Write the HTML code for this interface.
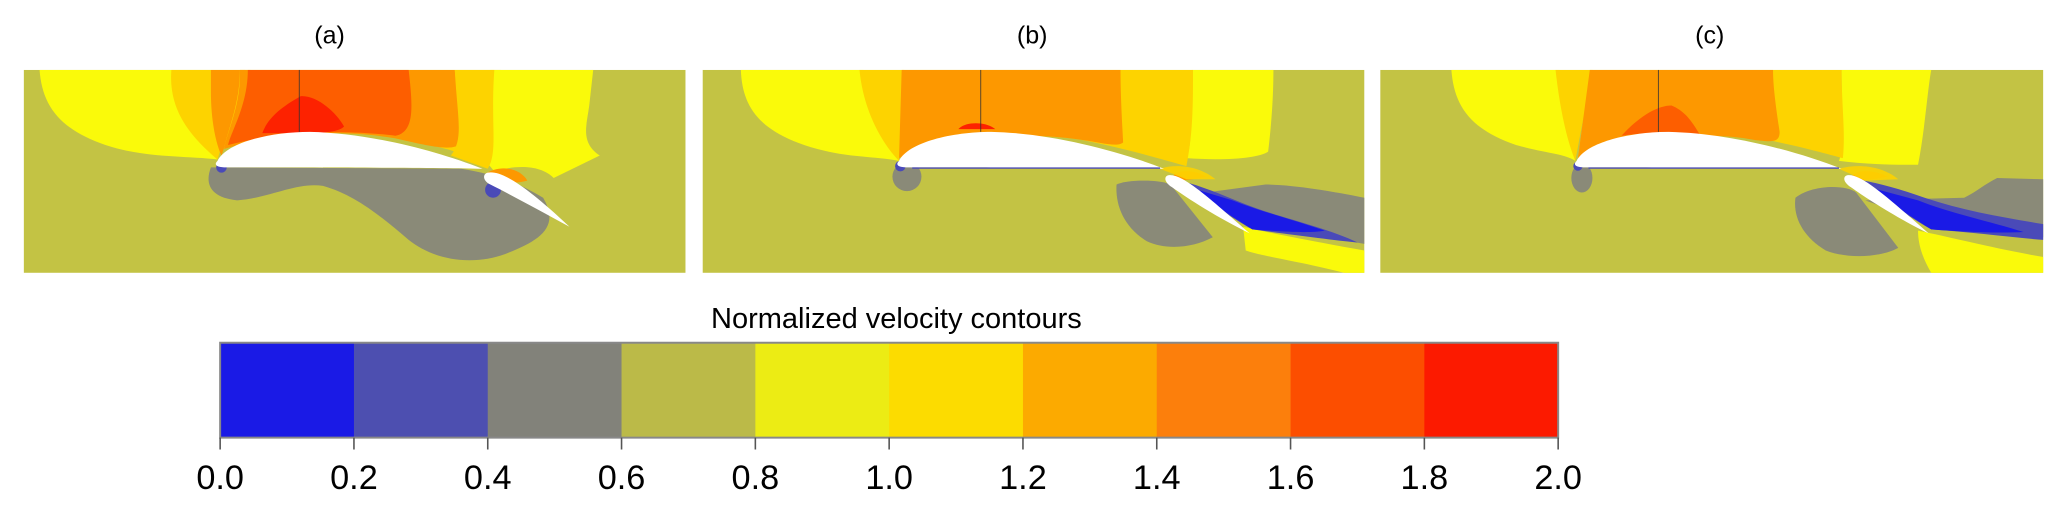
<!DOCTYPE html>
<html><head><meta charset="utf-8"><style>
html,body{margin:0;padding:0;background:#fff;}
svg{display:block;font-family:"Liberation Sans",Arial,sans-serif;}
</style></head><body>
<svg id="fig" width="2067" height="517" viewBox="0 0 1568 392.2" preserveAspectRatio="none" xmlns="http://www.w3.org/2000/svg">
<defs>
<clipPath id="ca"><rect x="18" y="53" width="502" height="154"/></clipPath>
<clipPath id="cb"><rect x="533" y="53" width="502" height="154"/></clipPath>
<clipPath id="cc"><rect x="1047" y="53" width="503" height="154"/></clipPath>
<g id="airfoil">
<path d="M165,122 C172,108 205,100 235,100 C280,101 330,114 366,128 C330,127 200,127 172,127 C164,127 162,125 165,122 Z" fill="#fff"/>
</g>
</defs>

<text x="250" y="33" font-size="19" text-anchor="middle">(a)</text>
<text x="783" y="33" font-size="19" text-anchor="middle">(b)</text>
<text x="1297" y="33" font-size="19" text-anchor="middle">(c)</text>

<g clip-path="url(#ca)">
<rect x="18" y="53" width="502" height="154" fill="#c3c344"/>
<path d="M30,53 C32,80 45,98 80,110 C110,120 140,118 165,121 L160,53 Z" fill="#fafa0a"/>
<path d="M130,53 C128,80 140,100 165,121 L186,53 Z" fill="#fdd300"/>
<path d="M160,53 L160,70 C160,95 165,112 168,118 L190,53 Z" fill="#fd9800"/>
<path d="M182,53 C182,80 172,100 170,113 C200,102 240,98 280,102 C330,108 355,118 365,122 L380,53 Z" fill="#fdd300"/>
<path d="M182,53 C183,80 172,100 170,113 C210,100 260,98 300,105 C330,112 345,115 350,108 L345,53 Z" fill="#fd9800"/>
<path d="M188,53 C188,80 175,100 173,110 C220,98 270,99 300,103 C315,100 313,80 310,53 Z" fill="#fd5e00"/>
<path d="M199,101 C203,90 212,82 228,73 C240,72 255,85 261,96 C255,102 235,101 199,101 Z" fill="#fd2200"/>
<path d="M372,53 C372,80 375,100 365,118 L375,130 C392,125 410,125 420,135 L455,118 C440,108 445,95 447,80 L450,53 Z" fill="#fafa0a"/>
<path d="M345,53 C347,90 352,105 342,118 L370,128 C378,115 372,95 375,53 Z" fill="#fdd300"/>
<path d="M368,132 C380,124 395,128 400,137 C390,140 378,138 368,132 Z" fill="#fd9800"/>
<path d="M160,127 C155,140 160,150 180,152 C205,150 225,138 245,141 C270,148 290,165 310,182 C330,198 360,202 385,192 C410,182 425,172 412,150 C395,140 380,133 350,128 Z" fill="#8a8a78"/>
<circle cx="168" cy="127" r="4" fill="#4a4ab8"/>
<circle cx="374" cy="144" r="6" fill="#4a4ab8"/>
<use href="#airfoil"/>
<path d="M370,131 C380,129 398,140 432,172 C410,160 388,148 372,140 C366,137 366,132 370,131 Z" fill="#fff"/>
<line x1="227" y1="53" x2="227" y2="100" stroke="#333" stroke-width="0.6"/>
</g>

<g clip-path="url(#cb)">
<rect x="533" y="53" width="502" height="154" fill="#c3c344"/>
<path d="M562,53 C563,80 575,98 610,110 C640,120 660,118 682,122 L655,53 Z" fill="#fafa0a"/>
<path d="M652,53 C655,85 670,110 682,122 L686,53 Z" fill="#fdd300"/>
<path d="M904,53 C903,80 905,110 900,120 C930,122 955,120 962,115 C965,90 966,70 966,53 Z" fill="#fafa0a"/>
<path d="M684,53 L682,120 C720,102 780,100 820,106 C860,114 885,122 900,126 C905,100 905,80 905,53 Z" fill="#fdd300"/>
<path d="M684,53 L682,120 C720,102 780,100 820,106 C835,108 848,112 852,108 C851,90 850,70 850,53 Z" fill="#fd9800"/>
<path d="M727,98 C732,92 748,92 755,98 Z" fill="#fd2200"/>
<circle cx="688" cy="134" r="11" fill="#8a8a78"/>
<circle cx="683" cy="126" r="4" fill="#4a4ab8"/>
<path d="M847,140 C855,136 880,136 888,140 L920,180 C905,188 885,190 870,183 C852,172 846,155 847,140 Z" fill="#8a8a78"/>
<path d="M900,148 L960,140 C980,140 1010,145 1035,150 L1035,185 L960,172 Z" fill="#8a8a78"/>
<path d="M943,172 C960,176 990,182 1035,190 L1035,207 L1020,207 C985,198 960,195 945,190 Z" fill="#fafa0a"/>
<path d="M885,135 C900,140 925,160 950,174 C980,178 1010,182 1030,184 C1005,172 970,165 945,155 C925,147 905,138 885,135 Z" fill="#4a4ab8"/>
<path d="M895,140 C915,150 935,165 950,174 C975,176 995,177 1005,175 C985,168 955,160 935,152 Z" fill="#1a1ae6"/>
<path d="M888,137 C890,128 905,128 915,134 C908,136 898,137 888,137 Z" fill="#fd9800"/>
<path d="M880,128 C892,124 910,126 922,136 L900,136 Z" fill="#fdd300" opacity="0.9"/>
<g transform="translate(517,0)"><use href="#airfoil"/></g>
<line x1="692" y1="127.5" x2="880" y2="127.5" stroke="#4a4ab8" stroke-width="1"/>
<path d="M886,133 C896,131 915,148 948,177 C925,166 900,150 889,142 C883,138 883,134 886,133 Z" fill="#fff"/>
<line x1="744" y1="53" x2="744" y2="100" stroke="#333" stroke-width="0.6"/>
</g>

<g clip-path="url(#cc)">
<rect x="1047" y="53" width="503" height="154" fill="#c3c344"/>
<path d="M1101,53 C1103,80 1115,98 1150,110 C1175,117 1185,116 1195,122 L1183,53 Z" fill="#fafa0a"/>
<path d="M1180,53 C1183,80 1188,105 1195,122 L1208,53 Z" fill="#fdd300"/>
<path d="M1397,53 C1397,90 1400,110 1395,122 C1420,125 1440,125 1455,125 C1460,100 1462,70 1465,53 Z" fill="#fafa0a"/>
<path d="M1206,53 L1197,120 C1240,102 1300,100 1340,106 C1370,112 1390,118 1398,120 C1400,100 1397,80 1397,53 Z" fill="#fdd300"/>
<path d="M1206,53 L1197,120 C1240,102 1300,100 1330,106 C1345,108 1350,108 1350,100 C1347,80 1345,65 1345,53 Z" fill="#fd9800"/>
<path d="M1230,103 C1240,92 1255,80 1268,80 C1280,85 1285,95 1290,103 C1270,100 1250,100 1230,103 Z" fill="#fd5e00"/>
<ellipse cx="1200" cy="135" rx="8" ry="11" fill="#8a8a78"/>
<circle cx="1197" cy="126" r="3.5" fill="#4a4ab8"/>
<path d="M1362,150 C1375,140 1400,140 1408,146 L1440,188 C1425,196 1400,196 1385,190 C1368,180 1360,165 1362,150 Z" fill="#8a8a78"/>
<path d="M1415,152 L1490,150 C1500,145 1505,140 1515,135 L1550,136 L1550,180 L1470,172 Z" fill="#8a8a78"/>
<path d="M1455,175 C1480,180 1510,188 1550,195 L1550,207 L1465,207 C1458,195 1455,185 1455,175 Z" fill="#fafa0a"/>
<path d="M1400,135 C1415,140 1440,160 1465,174 C1495,176 1525,180 1550,182 L1550,170 C1520,165 1490,160 1460,150 C1440,143 1420,137 1400,135 Z" fill="#4a4ab8"/>
<path d="M1410,140 C1430,150 1450,165 1465,174 C1490,176 1515,177 1535,176 C1510,168 1480,162 1455,152 Z" fill="#1a1ae6"/>
<path d="M1403,137 C1405,128 1420,128 1432,134 C1423,136 1413,137 1403,137 Z" fill="#fd9800"/>
<path d="M1395,128 C1410,124 1428,126 1440,136 L1415,137 Z" fill="#fdd300" opacity="0.9"/>
<g transform="translate(1031,0)"><use href="#airfoil"/></g>
<line x1="1205" y1="127.5" x2="1395" y2="127.5" stroke="#4a4ab8" stroke-width="1"/>
<path d="M1401,133 C1411,131 1430,148 1463,177 C1440,166 1415,150 1404,142 C1398,138 1398,134 1401,133 Z" fill="#fff"/>
<line x1="1258" y1="53" x2="1258" y2="100" stroke="#333" stroke-width="0.6"/>
</g>

<text x="680" y="249" font-size="22" text-anchor="middle">Normalized velocity contours</text>
<g id="colorbar"></g>
</svg>
<script>
const tickLabels = ["0.0","0.2","0.4","0.6","0.8","1.0","1.2","1.4","1.6","1.8","2.0"];
const levelValues = [0.0,0.2,0.4,0.6,0.8,1.0,1.2,1.4,1.6,1.8,2.0];
const levelColors = ["#1a1ae6","#4d4fb0","#82827a","#bbba48","#ecec14","#fcdc00","#fcaa00","#fc7f0c","#fc4e00","#fc1a00"];
(function(){
  const NS="http://www.w3.org/2000/svg";
  const g=document.getElementById('colorbar');
  const x0=167,x1=1182,y0=260,y1=332,vmin=0,vmax=2;
  const sx=v=>x0+(v-vmin)/(vmax-vmin)*(x1-x0);
  for(let i=0;i<levelColors.length;i++){
    const r=document.createElementNS(NS,'rect');
    const a=sx(levelValues[i]),b=sx(levelValues[i+1]);
    r.setAttribute('x',a);r.setAttribute('y',y0);
    r.setAttribute('width',b-a+0.3);r.setAttribute('height',y1-y0);
    r.setAttribute('fill',levelColors[i]);
    
    
    g.appendChild(r);
  }
  const fr=document.createElementNS(NS,'rect');
  fr.setAttribute('x',x0);fr.setAttribute('y',y0);fr.setAttribute('width',x1-x0);fr.setAttribute('height',y1-y0);
  fr.setAttribute('fill','none');fr.setAttribute('stroke','#888');fr.setAttribute('stroke-width','1.5');
  
  
  g.appendChild(fr);
  for(let i=0;i<tickLabels.length;i++){
    const x=sx(levelValues[i]);
    const l=document.createElementNS(NS,'line');
    l.setAttribute('x1',x);l.setAttribute('x2',x);l.setAttribute('y1',y1);l.setAttribute('y2',y1+9);
    l.setAttribute('stroke','#555');l.setAttribute('stroke-width','1.2');
    
    
    g.appendChild(l);
    const t=document.createElementNS(NS,'text');
    t.setAttribute('x',x);t.setAttribute('y',y1+39);
    t.setAttribute('font-size','26');t.setAttribute('text-anchor','middle');
    t.textContent=tickLabels[i];
    
    
    g.appendChild(t);
  }
})();
</script>
</body></html>
